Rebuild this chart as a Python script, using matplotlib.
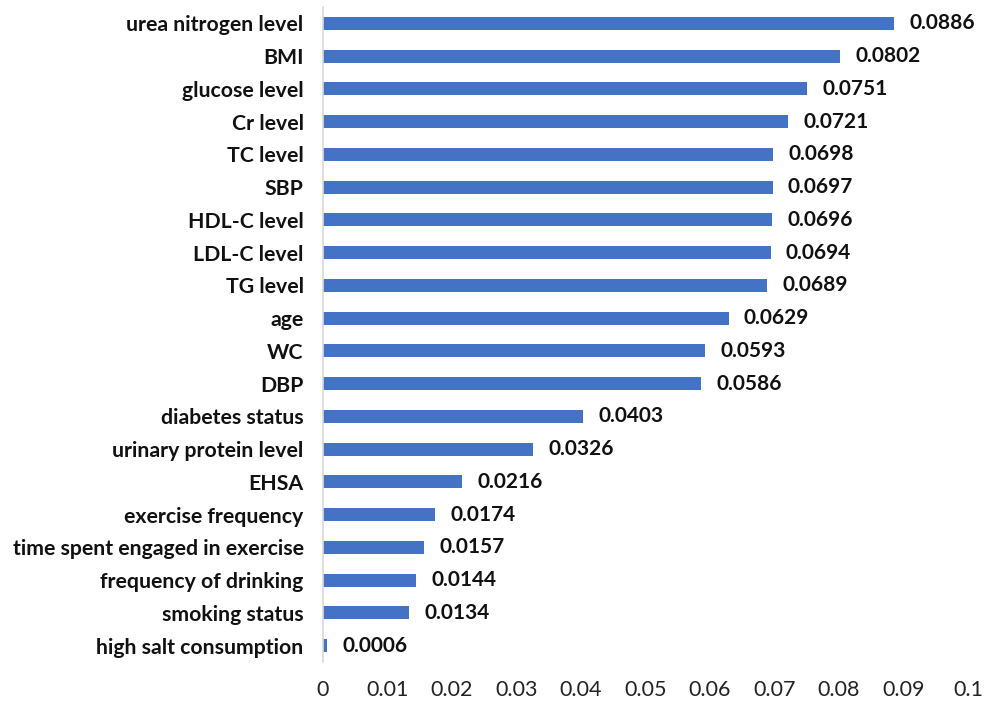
import matplotlib
matplotlib.use("Agg")
import matplotlib.pyplot as plt

features = [
    "urea nitrogen level", "BMI", "glucose level", "Cr level", "TC level",
    "SBP", "HDL-C level", "LDL-C level", "TG level", "age", "WC", "DBP",
    "diabetes status", "urinary protein level", "EHSA", "exercise frequency",
    "time spent engaged in exercise", "frequency of drinking",
    "smoking status", "high salt consumption",
]
importance = [
    0.0886, 0.0802, 0.0751, 0.0721, 0.0698, 0.0697, 0.0696, 0.0694, 0.0689,
    0.0629, 0.0593, 0.0586, 0.0403, 0.0326, 0.0216, 0.0174, 0.0157, 0.0144,
    0.0134, 0.0006,
]
xticks = [0, 0.01, 0.02, 0.03, 0.04, 0.05, 0.06, 0.07, 0.08, 0.09, 0.1]
xtick_labels = ["0", "0.01", "0.02", "0.03", "0.04", "0.05", "0.06",
                "0.07", "0.08", "0.09", "0.1"]

plt.rcParams["font.family"] = ["Lato", "DejaVu Sans"]

fig = plt.figure(figsize=(9.9, 7.04), dpi=100)
ax = fig.add_axes([323 / 990, 1 - 662 / 704, (968 - 323) / 990, (662 - 7) / 704])

ypos = list(range(len(features)))[::-1]
ax.barh(ypos, importance, height=0.4, color="#4472C4")

for y, v in zip(ypos, importance):
    ax.annotate(f"{v:.4f}", xy=(v, y), xytext=(11, 0), textcoords="offset points",
                va="center", ha="left", fontsize=15, fontweight="bold",
                color="#111111")

ax.set_xlim(0, 0.1)
ax.set_ylim(-0.5, len(features) - 0.5)
ax.set_xticks(xticks)
ax.set_xticklabels(xtick_labels, fontsize=15.5, color="#222222")
ax.set_yticks(ypos)
ax.set_yticklabels(features, fontsize=15.3, fontweight="bold", color="#111111")
ax.tick_params(axis="both", length=0)
ax.tick_params(axis="x", pad=13)
ax.tick_params(axis="y", pad=14)

for side in ["top", "right", "bottom"]:
    ax.spines[side].set_visible(False)
ax.spines["left"].set_color("#d9d9d9")
ax.spines["left"].set_linewidth(1.2)

fig.savefig("out.png", dpi=100, facecolor="white")
